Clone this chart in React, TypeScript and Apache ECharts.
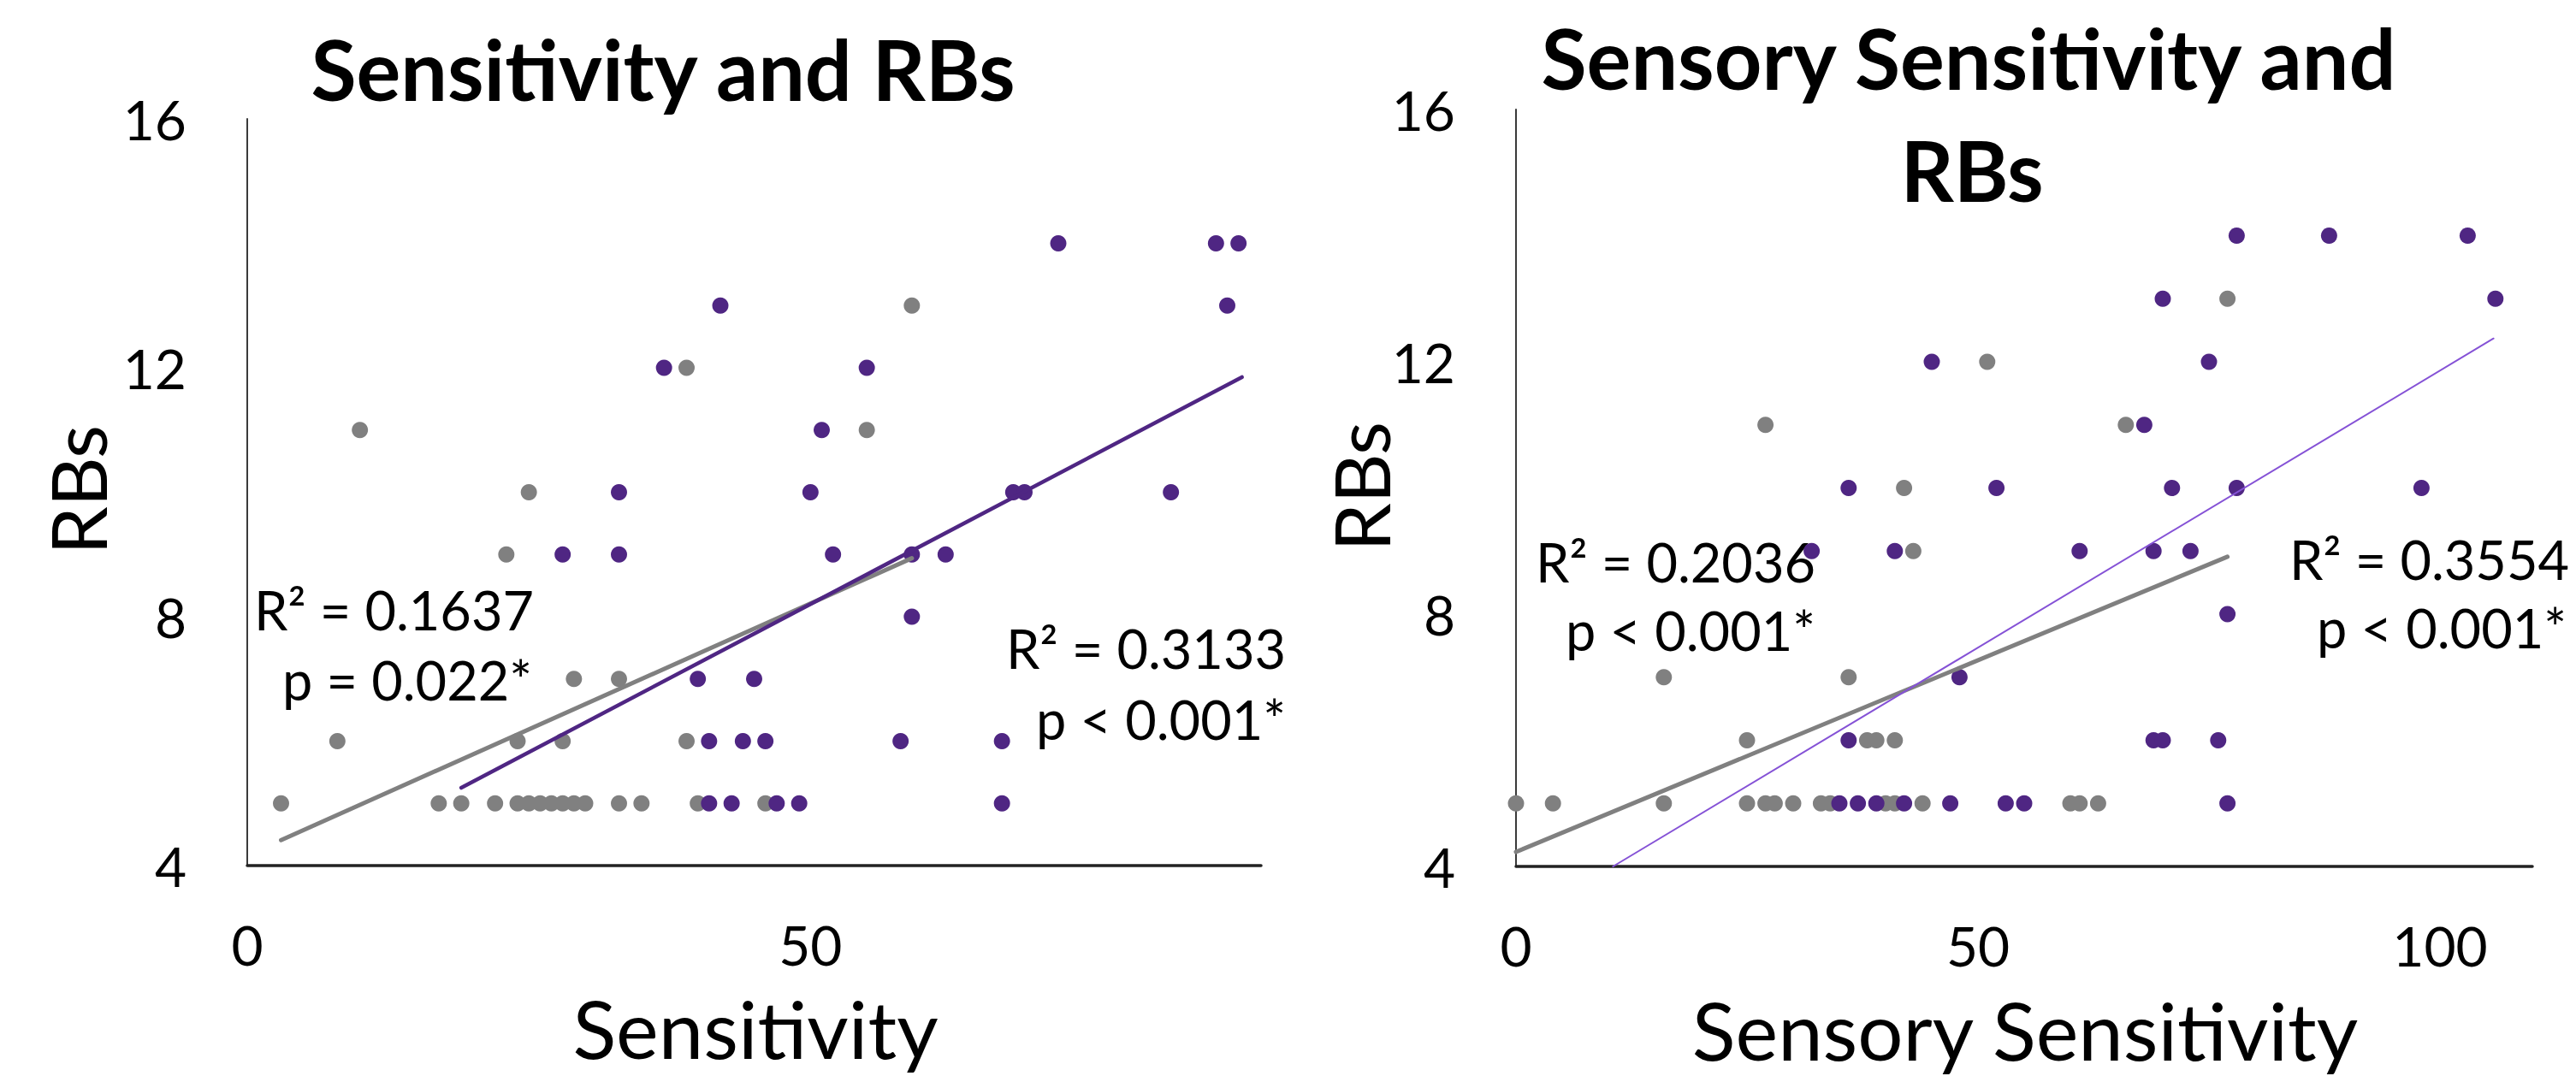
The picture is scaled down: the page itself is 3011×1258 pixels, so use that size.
import React, { useEffect, useRef } from "react";
import * as echarts from "echarts";

// ---- Data ----
// Left panel: Sensitivity vs RBs
const leftGrayPoints: [number, number][] = [
  [3, 5], [17, 5], [19, 5], [22, 5], [24, 5], [25, 5], [26, 5], [27, 5], [28, 5], [29, 5], [30, 5], [33, 5], [35, 5], [40, 5], [46, 5],
  [8, 6], [24, 6], [28, 6], [39, 6],
  [29, 7], [33, 7],
  [23, 9],
  [25, 10],
  [10, 11], [55, 11],
  [39, 12],
  [59, 13],
];
const leftPurplePoints: [number, number][] = [
  [41, 5], [43, 5], [47, 5], [49, 5], [67, 5],
  [41, 6], [44, 6], [46, 6], [58, 6], [67, 6],
  [40, 7], [45, 7],
  [59, 8],
  [28, 9], [33, 9], [52, 9], [59, 9], [62, 9],
  [33, 10], [50, 10], [68, 10], [69, 10], [82, 10],
  [51, 11],
  [37, 12], [55, 12],
  [42, 13], [87, 13],
  [72, 14], [86, 14], [88, 14],
];
const leftGrayTrend: [number, number][] = [[3, 4.41], [59, 8.94]];
const leftPurpleTrend: [number, number][] = [[19, 5.25], [88.3, 11.85]];

// Right panel: Sensory Sensitivity vs RBs
const rightGrayPoints: [number, number][] = [
  [0, 5], [4, 5], [16, 5], [25, 5], [27, 5], [28, 5], [30, 5], [33, 5], [34, 5], [40, 5], [41, 5], [44, 5], [60, 5], [61, 5], [63, 5],
  [25, 6], [38, 6], [39, 6], [41, 6],
  [16, 7], [36, 7],
  [43, 9],
  [42, 10],
  [27, 11], [66, 11],
  [51, 12],
  [77, 13],
];
const rightPurplePoints: [number, number][] = [
  [35, 5], [37, 5], [39, 5], [42, 5], [47, 5], [53, 5], [55, 5], [77, 5],
  [36, 6], [69, 6], [70, 6], [76, 6],
  [48, 7],
  [77, 8],
  [32, 9], [41, 9], [61, 9], [69, 9], [73, 9],
  [36, 10], [52, 10], [71, 10], [78, 10], [98, 10],
  [68, 11],
  [45, 12], [75, 12],
  [70, 13], [106, 13],
  [78, 14], [88, 14], [103, 14],
];
const rightGrayTrend: [number, number][] = [[0, 4.23], [77, 8.91]];
const rightPurpleTrend: [number, number][] = [[10.5, 4.0], [105.8, 12.37]];

const yTicks = { min: 4, max: 16, interval: 4 };
const leftXAxisRange = { min: 0, max: 90, interval: 50 };
const rightXAxisRange = { min: 0, max: 110, interval: 50 };

const titles = ["Sensitivity and RBs", "Sensory Sensitivity and", "RBs"];
const xAxisTitles = ["Sensitivity", "Sensory Sensitivity"];
const yAxisTitle = "RBs";
const annotations = [
  ["R\u00B2 = 0.1637", "p = 0.022*"],
  ["R\u00B2 = 0.3133", "p < 0.001*"],
  ["R\u00B2 = 0.2036", "p < 0.001*"],
  ["R\u00B2 = 0.3554", "p < 0.001*"],
];

// ---- Styles ----
const FONT = "Lato, 'Open Sans', 'Noto Sans', sans-serif";
const PURPLE = "#4F2683";
const GRAY = "#808080";
const LIGHT_PURPLE = "#8552D6";

function makeXAxis(gridIndex: number, range: { min: number; max: number; interval: number }) {
  return {
    type: "value",
    gridIndex,
    ...range,
    splitLine: { show: false },
    axisTick: { show: false },
    axisLine: { show: true, onZero: false, lineStyle: { color: "#222", width: 3.5 } },
    axisLabel: {
      show: true,
      showMaxLabel: false,
      fontSize: 64,
      fontFamily: FONT,
      color: "#000",
      margin: 60,
    },
  };
}

function makeYAxis(gridIndex: number) {
  return {
    type: "value",
    gridIndex,
    ...yTicks,
    splitLine: { show: false },
    axisTick: { show: false },
    axisLine: { show: true, onZero: false, lineStyle: { color: "#3a3a3a", width: 2 } },
    axisLabel: {
      show: true,
      fontSize: 64,
      fontFamily: FONT,
      color: "#000",
      margin: 71,
    },
  };
}

function scatter(data: [number, number][], idx: number, color: string) {
  return {
    type: "scatter",
    xAxisIndex: idx,
    yAxisIndex: idx,
    data,
    symbol: "circle",
    symbolSize: 19,
    itemStyle: { color, opacity: 1 },
    z: 2,
    silent: true,
  };
}

function trend(data: [number, number][], idx: number, color: string, width: number) {
  return {
    type: "line",
    xAxisIndex: idx,
    yAxisIndex: idx,
    data,
    symbol: "none",
    lineStyle: { color, width, cap: "round" },
    z: 3,
    silent: true,
  };
}

function txt(text: string, x: number, y: number, size: number, opts: any = {}) {
  return {
    type: "text",
    x,
    y,
    rotation: opts.rotation || 0,
    silent: true,
    style: {
      text,
      fill: "#000",
      fontSize: size,
      fontFamily: FONT,
      fontWeight: opts.bold ? "bold" : "normal",
      textAlign: opts.align || "center",
      align: opts.align || "center",
      textVerticalAlign: "middle",
      verticalAlign: "middle",
    },
  };
}

export default function App() {
  const ref = useRef<HTMLDivElement>(null);
  useEffect(() => {
    if (!ref.current) return;
    const chart = echarts.init(ref.current, null, { renderer: "svg" });
    const option = {
      animation: false,
      backgroundColor: "#ffffff",
      grid: [
        { left: 289, top: 139, width: 1185, height: 873, show: false },
        { left: 1772, top: 128, width: 1188, height: 885, show: false },
      ],
      xAxis: [makeXAxis(0, leftXAxisRange), makeXAxis(1, rightXAxisRange)],
      yAxis: [makeYAxis(0), makeYAxis(1)],
      series: [
        scatter(leftGrayPoints, 0, GRAY),
        scatter(leftPurplePoints, 0, PURPLE),
        trend(leftGrayTrend, 0, GRAY, 5),
        trend(leftPurpleTrend, 0, PURPLE, 4.5),
        scatter(rightGrayPoints, 1, GRAY),
        scatter(rightPurplePoints, 1, PURPLE),
        trend(rightGrayTrend, 1, GRAY, 5),
        trend(rightPurpleTrend, 1, LIGHT_PURPLE, 2),
      ],
      graphic: [
        txt(titles[0], 775, 80, 97, { bold: true }),
        txt(titles[1], 2301, 67, 97, { bold: true }),
        txt(titles[2], 2305, 198, 97, { bold: true }),
        txt(xAxisTitles[0], 883, 1201, 94),
        txt(xAxisTitles[1], 2367, 1203, 94),
        txt(yAxisTitle, 90, 573, 90, { rotation: Math.PI / 2 }),
        txt(yAxisTitle, 1590, 569, 90, { rotation: Math.PI / 2 }),
        txt(annotations[0][0], 624, 712, 63, { align: "right" }),
        txt(annotations[0][1], 622, 794, 63, { align: "right" }),
        txt(annotations[1][0], 1503, 757, 63, { align: "right" }),
        txt(annotations[1][1], 1503, 840, 63, { align: "right" }),
        txt(annotations[2][0], 2122, 656, 63, { align: "right" }),
        txt(annotations[2][1], 2122, 736, 63, { align: "right" }),
        txt(annotations[3][0], 3003, 653, 63, { align: "right" }),
        txt(annotations[3][1], 3000, 733, 63, { align: "right" }),
      ],
    };
    chart.setOption(option as any);
    return () => chart.dispose();
  }, []);
  return (
    <div
      ref={ref}
      style={{ position: "absolute", left: 0, top: 0, width: 3011, height: 1258, background: "#fff" }}
    />
  );
}
